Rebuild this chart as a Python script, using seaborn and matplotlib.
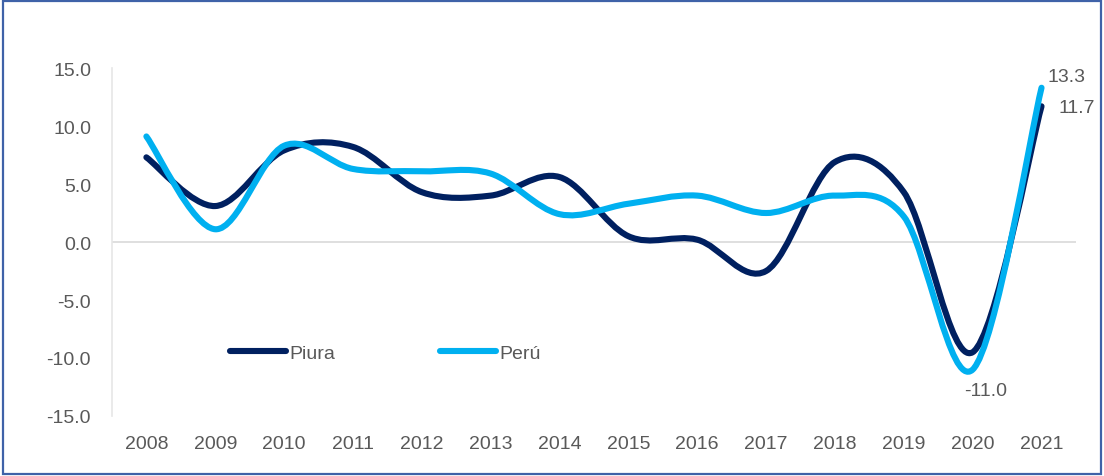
import matplotlib.pyplot as plt
import seaborn as sns
from matplotlib.path import Path
from matplotlib.patches import PathPatch, Rectangle
from matplotlib.lines import Line2D

# --- Data --- #
years = ['2008', '2009', '2010', '2011', '2012', '2013', '2014',
         '2015', '2016', '2017', '2018', '2019', '2020', '2021']
piura = [7.3, 3.1, 7.9, 8.2, 4.3, 4.0, 5.6, 0.5, 0.2, -2.5, 6.9, 4.3, -9.5, 11.7]
peru = [9.1, 1.1, 8.3, 6.3, 6.1, 5.9, 2.4, 3.3, 4.0, 2.5, 4.0, 2.2, -11.0, 13.3]
y_ticks = [-15, -10, -5, 0, 5, 10, 15]

col_piura = '#002060'
col_peru = '#00B0F0'
txt_col = '#595959'

sns.set_theme(style="white")
plt.rcParams['font.family'] = ['Liberation Sans', 'DejaVu Sans']


def smooth_path(xs, ys):
    # Excel-style smoothed line: cubic bezier through every point
    verts = [(xs[0], ys[0])]
    codes = [Path.MOVETO]
    n = len(xs)
    for i in range(n - 1):
        xp, yp = (xs[i - 1], ys[i - 1]) if i > 0 else (xs[i], ys[i])
        xn, yn = (xs[i + 2], ys[i + 2]) if i + 2 < n else (xs[i + 1], ys[i + 1])
        c1 = (xs[i] + (xs[i + 1] - xp) / 6, ys[i] + (ys[i + 1] - yp) / 6)
        c2 = (xs[i + 1] - (xn - xs[i]) / 6, ys[i + 1] - (yn - ys[i]) / 6)
        verts += [c1, c2, (xs[i + 1], ys[i + 1])]
        codes += [Path.CURVE4] * 3
    return Path(verts, codes)


fig = plt.figure(figsize=(11.04, 4.77), dpi=100)
ax = fig.add_axes([0.1014, 0.1258, 0.8732, 0.7295])

xs = list(range(len(years)))
for vals, col in [(piura, col_piura), (peru, col_peru)]:
    ax.add_patch(PathPatch(smooth_path(xs, vals), facecolor='none',
                           edgecolor=col, lw=4.4, capstyle='round',
                           joinstyle='round', zorder=3))

ax.set_xlim(-0.5, len(years) - 0.5)
ax.set_ylim(-15, 15)
ax.set_xticks(xs)
ax.set_xticklabels(years)
ax.set_yticks(y_ticks)
ax.set_yticklabels([f'{v:.1f}' for v in y_ticks])
ax.tick_params(axis='both', length=0, labelsize=14, labelcolor=txt_col)
ax.tick_params(axis='x', pad=14)
ax.tick_params(axis='y', pad=15)

for s in ['top', 'right', 'bottom']:
    ax.spines[s].set_visible(False)
ax.spines['left'].set_color('#E6E6E6')
ax.spines['left'].set_linewidth(1.2)
ax.axhline(0, color='#D9D9D9', lw=1.2, zorder=1)

# Data labels
ax.annotate('13.3', (13, peru[13]), xytext=(4, 8), textcoords='offset points',
            fontsize=14, color=txt_col, ha='left', va='center')
ax.annotate('11.7', (13, piura[13]), xytext=(12, -1), textcoords='offset points',
            fontsize=14, color=txt_col, ha='left', va='center')
ax.annotate('-11.0', (12, peru[12]), xytext=(9, -15), textcoords='offset points',
            fontsize=14, color=txt_col, ha='center', va='center')

handles = [Line2D([], [], color=col_piura, lw=4.4, solid_capstyle='round'),
           Line2D([], [], color=col_peru, lw=4.4, solid_capstyle='round')]
ax.legend(handles, ['Piura', 'Perú'], ncol=2, frameon=False, fontsize=14,
          labelcolor=txt_col, handlelength=2.9, handletextpad=0.15,
          columnspacing=5.4, loc='center left', bbox_to_anchor=(0.104, 0.18))

fig.patches.append(Rectangle((0.003, 0.005), 0.994, 0.99, transform=fig.transFigure,
                             fill=False, edgecolor='#3F62A8', lw=1.6))

fig.savefig('out.png', dpi=100)
